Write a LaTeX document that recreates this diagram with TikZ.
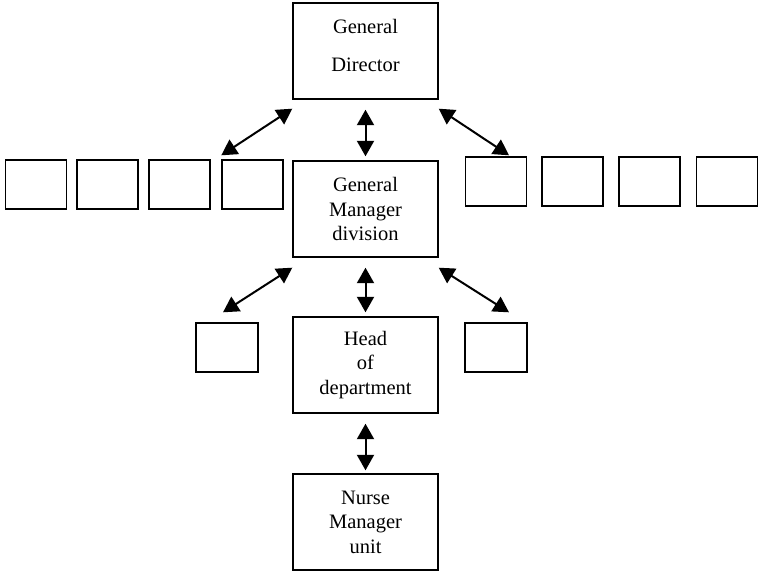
\documentclass[tikz,border=0pt]{standalone}
\usepackage{fontspec}
\setmainfont{Liberation Serif}
\usetikzlibrary{arrows.meta,calc}
\begin{document}
\begin{tikzpicture}[x=1pt,y=-1pt,
 box/.style={draw,line width=1.4pt,inner sep=0pt,align=center,font=\fontsize{20.5}{24.5}\selectfont},
 txt/.style={inner sep=0pt,align=center,font=\fontsize{20.5}{24.5}\selectfont},
 big/.style={box,minimum width=145pt,minimum height=96pt},
 small/.style={box,minimum width=61pt,minimum height=49pt},
 tip/.style={Triangle[length=15.5pt,width=17pt]},
 dbl/.style={line width=2pt,{Triangle[length=15.5pt,width=17pt]}-{Triangle[length=15.5pt,width=17pt]}}]
\useasboundingbox (0,0) rectangle (759,572);
\node[big] (gd) at (365.5,51) {};
\node[txt] (gdt) at ([yshift=6pt]gd.center) {General\\[13.5pt]Director};
\node[big] (gm) at (365.5,209) {General\\Manager\\division};
\node[big] (hd) at (365.5,365) {Head\\of\\department};
\node[big] (nm) at (365.5,522) {Nurse\\Manager\\unit};
\node[small] (l1) at (36,184.5) {};
\node[small] (l2) at (107.5,184.5) {};
\node[small] (l3) at (179.5,184.5) {};
\node[small] (l4) at (252.5,184.5) {};
\node[small] (r1) at (496,181.5) {};
\node[small] (r2) at (572.5,181.5) {};
\node[small] (r3) at (649.5,181.5) {};
\node[small] (r4) at (727,181.5) {};
\node[small,minimum width=62pt] (bl) at (227,347.5) {};
\node[small,minimum width=62pt] (br) at (496,347.5) {};
\draw[dbl] ([yshift=-9pt]gd.south west) -- ([yshift=4pt]l4.north west);
\draw[dbl] ([yshift=-10pt]gd.south) -- ([yshift=4pt]gm.north);
\draw[dbl] ([yshift=-9pt]gd.south east) -- ([xshift=13pt,yshift=1pt]r1.north);
\draw[dbl] ([yshift=-10pt]gm.south west) -- ([xshift=-4pt,yshift=10pt]bl.north);
\draw[dbl] ([yshift=-10pt]gm.south) -- ([yshift=4pt]hd.north);
\draw[dbl] ([yshift=-10pt]gm.south east) -- ([xshift=13pt,yshift=10pt]br.north);
\draw[dbl] ([yshift=-10pt]hd.south) -- ([yshift=3pt]nm.north);
\end{tikzpicture}
\end{document}
